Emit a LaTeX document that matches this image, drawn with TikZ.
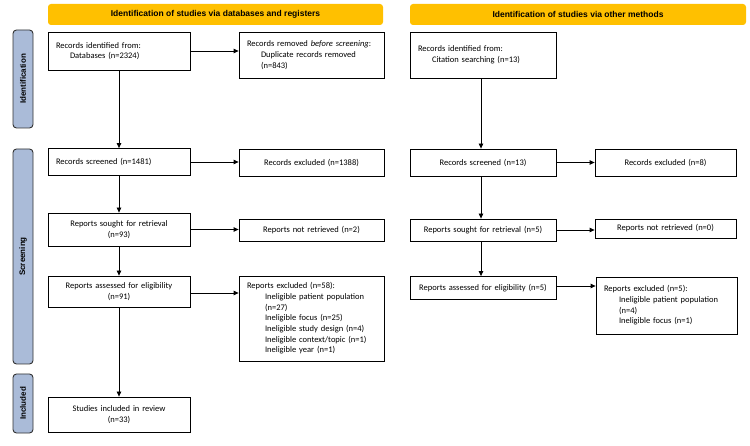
\documentclass[tikz,border=0pt]{standalone}
\usepackage{fontspec}
\setmainfont{Carlito}
\newfontfamily\bannerfont{Liberation Sans}
\usetikzlibrary{arrows.meta}
\definecolor{bannergold}{RGB}{255,192,0}
\definecolor{sideblue}{RGB}{170,187,216}
\definecolor{sideedge}{RGB}{50,50,50}
\begin{document}
\begin{tikzpicture}[x=1pt,y=-1pt,
  box/.style={draw=black, line width=0.8pt, fill=white, inner xsep=8pt, inner ysep=1pt,
    font=\fontsize{8.5}{10.7}\selectfont},
  lbox/.style={box, align=left},
  cbox/.style={box, align=center},
  banner/.style={fill=bannergold, rounded corners=3pt, minimum height=21pt,
    font=\bannerfont\bfseries\fontsize{8.5}{9}\selectfont},
  side/.style={fill=sideblue, draw=sideedge, line width=0.9pt, rounded corners=3.5pt,
    rotate=90, minimum height=20pt, inner sep=0pt,
    font=\bannerfont\bfseries\fontsize{8}{9}\selectfont},
  arr/.style={draw=black, line width=0.8pt, -{Triangle[length=5pt,width=4.5pt]}}
]
\useasboundingbox (0,0) rectangle (750,446);

% banners
\node[banner, minimum width=335pt] (b1) at (215.5,14.5) {Identification of studies via databases and registers};
\node[banner, minimum width=336pt] (b2) at (578,14.5) {Identification of studies via other methods};

% side labels
\node[side, minimum width=98pt] (s1) at (23,79) {Identification};
\node[side, minimum width=215pt] (s2) at (23,256.5) {Screening};
\node[side, minimum width=59pt] (s3) at (23,403.5) {Included};

% left column
\node[lbox, minimum width=142pt, minimum height=38pt, text width=126pt] (n1) at (119,51)
  {Records identified from:\\\hspace*{14pt}Databases (n=2324)};
\node[lbox, minimum width=145pt, minimum height=46pt, text width=129pt] (rem) at (311.5,55)
  {Records removed \textit{before screening}:\\\hspace*{14pt}Duplicate records removed\\\hspace*{14pt}(n=843)};
\node[lbox, minimum width=142pt, minimum height=27pt, text width=126pt] (scr) at (119,162)
  {Records screened (n=1481)};
\node[cbox, minimum width=145pt, minimum height=27pt, text width=129pt] (exc) at (311.5,162.5)
  {Records excluded (n=1388)};
\node[cbox, minimum width=142pt, minimum height=33pt, text width=126pt] (sought) at (119,229.5)
  {Reports sought for retrieval\\(n=93)};
\node[cbox, minimum width=145pt, minimum height=22pt, text width=129pt] (notret) at (311.5,230)
  {Reports not retrieved (n=2)};
\node[cbox, minimum width=142pt, minimum height=31pt, text width=126pt] (assess) at (119,291.5)
  {Reports assessed for eligibility\\(n=91)};
\node[lbox, minimum width=145pt, minimum height=85pt, text width=129pt] (excl) at (311.5,318.5)
  {Reports excluded (n=58):\\\hspace*{18pt}Ineligible patient population\\\hspace*{18pt}(n=27)\\\hspace*{18pt}Ineligible focus (n=25)\\\hspace*{18pt}Ineligible study design (n=4)\\\hspace*{18pt}Ineligible context/topic (n=1)\\\hspace*{18pt}Ineligible year (n=1)};
\node[cbox, minimum width=142pt, minimum height=35pt, text width=126pt] (incl) at (119,414.5)
  {Studies included in review\\(n=33)};

% right column
\node[lbox, minimum width=146pt, minimum height=46pt, text width=130pt] (c1) at (483,55)
  {Records identified from:\\\hspace*{14pt}Citation searching (n=13)};
\node[cbox, minimum width=146pt, minimum height=27pt, text width=130pt] (cscr) at (483,162.5)
  {Records screened (n=13)};
\node[cbox, minimum width=141pt, minimum height=27pt, text width=125pt] (cexc) at (665.5,162.5)
  {Records excluded (n=8)};
\node[cbox, minimum width=146pt, minimum height=22pt, text width=130pt] (csought) at (483,230)
  {Reports sought for retrieval (n=5)};
\node[cbox, minimum width=141pt, minimum height=19pt, text width=125pt] (cnotret) at (665.5,228.5)
  {Reports not retrieved (n=0)};
\node[cbox, minimum width=146pt, minimum height=23pt, text width=130pt] (cassess) at (483,288)
  {Reports assessed for eligibility (n=5)};
\node[lbox, minimum width=141pt, minimum height=57pt, text width=125pt] (cexcl) at (666.5,305.5)
  {Reports excluded (n=5):\\\hspace*{15pt}Ineligible patient population\\\hspace*{15pt}(n=4)\\\hspace*{15pt}Ineligible focus (n=1)};

% arrows left
\draw[arr] (n1.east) -- (n1.east -| rem.west);
\draw[arr] (n1.south) -- (scr.north);
\draw[arr] (scr.east) -- (scr.east -| exc.west);
\draw[arr] (scr.south) -- (sought.north);
\draw[arr] (sought.east) -- (sought.east -| notret.west);
\draw[arr] (sought.south) -- (assess.north);
\draw[arr] ([yshift=-1.5pt]assess.east) -- ([yshift=-1.5pt]assess.east -| excl.west);
\draw[arr] (assess.south) -- (incl.north);

% arrows right
\draw[arr] ([xshift=-2pt]c1.south) -- ([xshift=-2pt]cscr.north);
\draw[arr] (cscr.east) -- (cscr.east -| cexc.west);
\draw[arr] ([xshift=-2pt]cscr.south) -- ([xshift=-2pt]csought.north);
\draw[arr] (csought.east) -- (csought.east -| cnotret.west);
\draw[arr] ([xshift=-2pt]csought.south) -- ([xshift=-2pt]cassess.north);
\draw[arr] ([yshift=2pt]cassess.east) -- ([yshift=2pt]cassess.east -| cexcl.west);
\end{tikzpicture}
\end{document}
